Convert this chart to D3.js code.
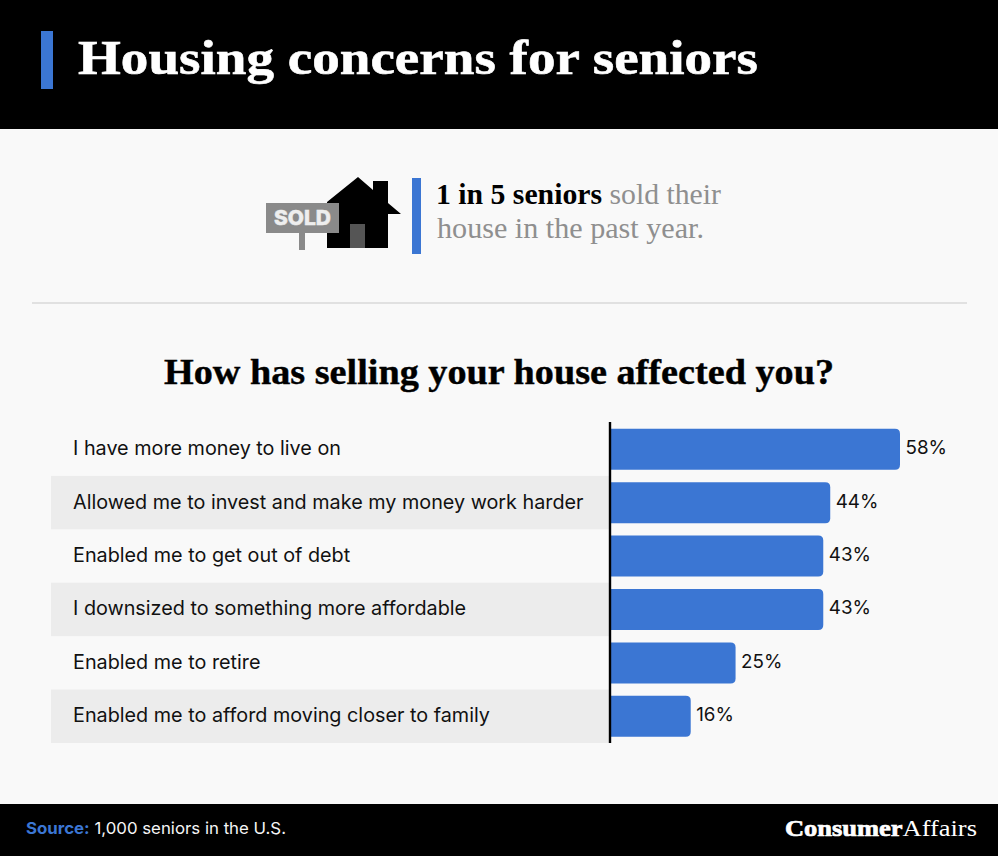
<!DOCTYPE html>
<html><head><meta charset="utf-8">
<script src="https://cdn.jsdelivr.net/npm/d3@7"></script>
<style>html,body{margin:0;padding:0;background:#f9f9f9}svg{display:block}</style>
</head><body><div id="c"></div>
<script>
const categories=["I have more money to live on","Allowed me to invest and make my money work harder","Enabled me to get out of debt","I downsized to something more affordable","Enabled me to retire","Enabled me to afford moving closer to family"];
const values=[58,44,42.6,42.6,25,16];
const valueLabels=["58%","44%","43%","43%","25%","16%"];
const title="Housing concerns for seniors";
const subtitle="How has selling your house affected you?";
const serif="'Liberation Serif','DejaVu Serif',serif", sans="Inter,Roboto,'Noto Sans',sans-serif";
const blue="#3b76d3";
const svg=d3.select("#c").append("svg").attr("width",998).attr("height",856);
svg.append("rect").attr("width",998).attr("height",856).attr("fill","#f9f9f9");
// header
svg.append("rect").attr("width",998).attr("height",129).attr("fill","#000");
svg.append("rect").attr("x",41).attr("y",31).attr("width",12).attr("height",58).attr("fill",blue);
svg.append("text").attr("x",78).attr("y",74).attr("fill","#fff").attr("stroke","#fff").attr("stroke-width",0.6).attr("font-family",serif).attr("font-weight",700).attr("font-size",49).attr("textLength",680).attr("lengthAdjust","spacingAndGlyphs").text(title);
// icon
const icon=svg.append("g");
icon.append("path").attr("d","M327 202 L358 177 L373 190 L373 181 L388 181 L388 203 L401 214 L388 214 L388 248 L327 248 Z").attr("fill","#000");
icon.append("rect").attr("x",350).attr("y",224).attr("width",15).attr("height",24).attr("fill","#555");
icon.append("rect").attr("x",299).attr("y",230).attr("width",6).attr("height",20).attr("fill","#8a8a8a");
icon.append("rect").attr("x",266).attr("y",203).attr("width",73).attr("height",30).attr("fill","#8a8a8a");
icon.append("text").attr("x",302.5).attr("y",225).attr("text-anchor","middle").attr("fill","#eee").attr("stroke","#eee").attr("stroke-width",0.5).attr("font-family",sans).attr("font-weight",800).attr("font-size",20).attr("textLength",57).attr("lengthAdjust","spacingAndGlyphs").text("SOLD");
svg.append("rect").attr("x",412).attr("y",178).attr("width",9).attr("height",76).attr("fill",blue);
const t1=svg.append("text").attr("x",436).attr("y",204).attr("font-family",serif).attr("font-size",30).attr("textLength",285).attr("lengthAdjust","spacingAndGlyphs");
t1.append("tspan").attr("font-weight",700).attr("fill","#000").text("1 in 5 seniors");
t1.append("tspan").attr("fill","#8f8f8f").text(" sold their");
svg.append("text").attr("x",437).attr("y",238).attr("font-family",serif).attr("font-size",30).attr("fill","#8f8f8f").attr("textLength",267).attr("lengthAdjust","spacingAndGlyphs").text("house in the past year.");
svg.append("line").attr("x1",32).attr("x2",967).attr("y1",303).attr("y2",303).attr("stroke","#d8d8d8").attr("stroke-width",1.5);
svg.append("text").attr("x",499).attr("y",384).attr("text-anchor","middle").attr("font-family",serif).attr("font-weight",700).attr("font-size",36).attr("fill","#000").attr("stroke","#000").attr("stroke-width",0.4).attr("textLength",670).attr("lengthAdjust","spacingAndGlyphs").text(subtitle);
// chart
const x=d3.scaleLinear().domain([0,58]).range([611,900]);
const y=d3.scaleBand().domain(categories).range([422.5,743]).padding(0);
const rows=svg.append("g");
rows.selectAll("rect").data(categories.filter((d,i)=>i%2==1)).join("rect").attr("x",51).attr("width",558).attr("y",d=>y(d)).attr("height",y.bandwidth()).attr("fill","#ececec");
svg.append("g").selectAll("text").data(categories).join("text").attr("x",73).attr("y",d=>y(d)+y.bandwidth()/2+6).attr("font-family",sans).attr("font-size",19.8).attr("fill","#111").text(d=>d);
const barH=41;
svg.append("g").selectAll("path").data(values).join("path").attr("fill",blue).attr("d",(v,i)=>{
  const c=y(categories[i])+y.bandwidth()/2, t=c-barH/2, x0=x(0), x1=x(v), r=5;
  return `M${x0} ${t}H${x1-r}Q${x1} ${t} ${x1} ${t+r}V${t+barH-r}Q${x1} ${t+barH} ${x1-r} ${t+barH}H${x0}Z`;
});
svg.append("g").selectAll("text").data(values).join("text").attr("x",v=>x(v)+5.5).attr("y",(v,i)=>y(categories[i])+y.bandwidth()/2+5).attr("font-family",sans).attr("font-size",18.8).attr("fill","#111").text((v,i)=>valueLabels[i]);
svg.append("line").attr("x1",610).attr("x2",610).attr("y1",422).attr("y2",743).attr("stroke","#000").attr("stroke-width",2.4);
// footer
svg.append("rect").attr("y",804).attr("width",998).attr("height",52).attr("fill","#000");
const s=svg.append("text").attr("x",26).attr("y",834).attr("font-family",sans).attr("font-size",16.5).attr("fill","#f5f5f5").attr("textLength",260).attr("lengthAdjust","spacingAndGlyphs");
s.append("tspan").attr("font-weight",700).attr("fill",blue).text("Source:");
s.append("tspan").text(" 1,000 seniors in the U.S.");
const l=svg.append("text").attr("x",785).attr("y",836).attr("font-family",serif).attr("font-size",24).attr("fill","#fff").attr("textLength",192).attr("lengthAdjust","spacingAndGlyphs");
l.append("tspan").attr("font-weight",700).attr("stroke","#fff").attr("stroke-width",0.7).text("Consumer");
l.append("tspan").text("Affairs");
</script></body></html>
